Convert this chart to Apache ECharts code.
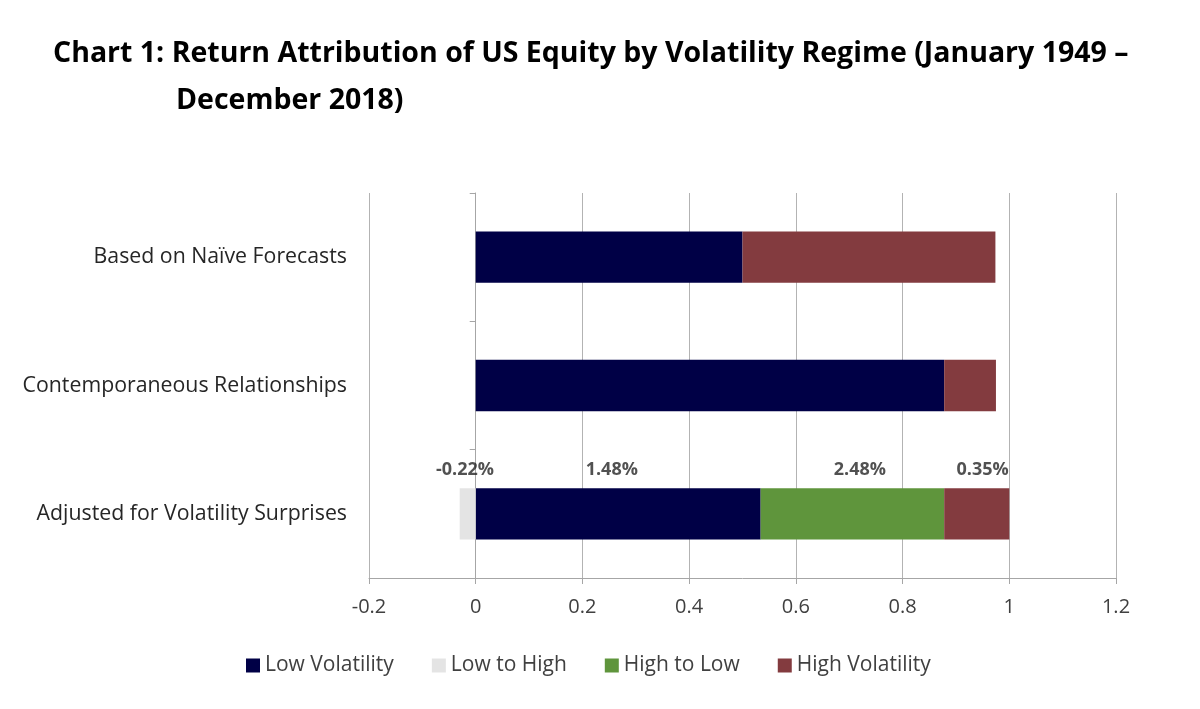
<!DOCTYPE html>
<html>
<head>
<meta charset="utf-8">
<script src="https://cdn.jsdelivr.net/npm/echarts@6/dist/echarts.min.js"></script>
<style>html,body{margin:0;padding:0;background:#fff}#c{width:1200px;height:709px}</style>
</head>
<body>
<div id="c"></div>
<script>
const categories = ['Adjusted for Volatility Surprises', 'Contemporaneous Relationships', 'Based on Naïve Forecasts'];
const lowVol = [0.534, 0.878, 0.500];
const lowToHigh = [-0.03, 0, 0];
const highToLow = [0.344, 0, 0];
const highVol = [0.122, 0.097, 0.474];
const annotTexts = ['-0.22%', '1.48%', '2.48%', '0.35%'];
const annotX = [-0.02, 0.255, 0.72, 0.95];
const xTicks = { min: -0.2, max: 1.2, interval: 0.2 };

const FONT = 'Open Sans';
const chart = echarts.init(document.getElementById('c'));
chart.setOption({
  backgroundColor: '#fff',
  animation: false,
  title: [
    { text: 'Chart 1: Return Attribution of US Equity by Volatility Regime (January 1949 –', left: 48, top: 34,
      textStyle: { fontFamily: FONT, fontWeight: 'bold', fontSize: 28.5, color: '#000' } },
    { text: 'December 2018)', left: 171, top: 81,
      textStyle: { fontFamily: FONT, fontWeight: 'bold', fontSize: 28.5, color: '#000' } }
  ],
  legend: {
    left: 241, top: 650, icon: 'rect', itemWidth: 14, itemHeight: 14, itemGap: 38,
    textStyle: { fontFamily: FONT, fontSize: 21, color: '#404040' },
    data: ['Low Volatility', 'Low to High', 'High to Low', 'High Volatility']
  },
  grid: { left: 369, right: 84, top: 193, bottom: 131, containLabel: false },
  xAxis: {
    type: 'value', min: xTicks.min, max: xTicks.max, interval: xTicks.interval,
    axisLine: { show: true, lineStyle: { color: '#a6a6a6', width: 1 } },
    axisTick: { show: true, length: 6, lineStyle: { color: '#a6a6a6' } },
    axisLabel: { fontFamily: FONT, fontSize: 20, color: '#404040', margin: 19,
      formatter: v => String(Math.round(v * 10) / 10) },
    splitLine: { show: true, lineStyle: { color: '#b3b3b3', width: 1 } }
  },
  yAxis: [
    {
      type: 'category', data: categories, position: 'left',
      axisLine: { show: false, onZero: false }, axisTick: { show: false },
      axisLabel: { fontFamily: FONT, fontSize: 21.3, color: '#262626', margin: 22 }
    },
    {
      type: 'category', data: categories, position: 'left',
      axisLine: { show: true, onZero: true, lineStyle: { color: '#a6a6a6' } },
      axisTick: { show: true, length: 6, lineStyle: { color: '#a6a6a6' } },
      axisLabel: { show: false }
    }
  ],
  series: [
    { name: 'Low Volatility', type: 'bar', stack: 's', data: lowVol, barWidth: '40%',
      itemStyle: { color: '#000046' } },
    { name: 'Low to High', type: 'bar', stack: 's', data: lowToHigh,
      itemStyle: { color: '#e4e4e4' } },
    { name: 'High to Low', type: 'bar', stack: 's', data: highToLow,
      itemStyle: { color: '#5f953c' } },
    { name: 'High Volatility', type: 'bar', stack: 's', data: highVol,
      itemStyle: { color: '#833b3f' } },
    { name: 'annot', type: 'scatter', symbolSize: 1, itemStyle: { color: 'rgba(0,0,0,0)' },
      silent: true, legendHoverLink: false,
      data: annotX.map((x, i) => ({ value: [x, categories[0]], label: { formatter: annotTexts[i] } })),
      label: { show: true, position: 'inside', offset: [0, -44],
        fontFamily: FONT, fontWeight: 'bold', fontSize: 18, color: '#262626' } }
  ]
});
</script>
</body>
</html>
